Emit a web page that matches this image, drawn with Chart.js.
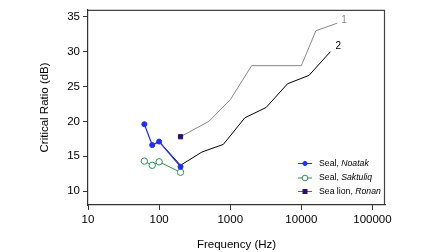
<!DOCTYPE html>
<html>
<head>
<meta charset="utf-8">
<script src="https://cdn.jsdelivr.net/npm/chart.js@4.4.0/dist/chart.umd.min.js"></script>
<style>
  body { margin: 0; background: #fff; }
  #wrap { width: 448px; height: 252px; }
</style>
</head>
<body>
<div id="wrap"><canvas id="myChart"></canvas></div>
<script>
// data
const xTicks = [10, 100, 1000, 10000, 100000];
const yTicks = [10, 15, 20, 25, 30, 35];

const noatakFreq = [62, 80, 100, 200];
const noatakCR = [19.6, 16.6, 17.1, 13.5];

const saktuliqFreq = [62, 80, 100, 200];
const saktuliqCR = [14.3, 13.7, 14.2, 12.7];

const ronanFreq = [200];
const ronanCR = [17.8];

const curve1Freq = [200, 500, 1000, 2000, 10000, 16000, 32000];
const curve1CR = [17.8, 20, 23.1, 28, 28, 33, 34.1];

const curve2Freq = [100, 200, 400, 800, 1600, 3200, 6400, 12800, 25600];
const curve2CR = [17.1, 13.7, 15.6, 16.7, 20.5, 22, 25.4, 26.6, 30];

const seriesNames = ['Seal, Noatak', 'Seal, Saktuliq', 'Sea lion, Ronan'];
const curveLabels = ['1', '2'];

function pts(xs, ys) {
  return xs.map((x, i) => ({ x: x, y: ys[i] }));
}

// box round the plot area, curve numbers and legend
const extras = {
  id: 'extras',
  afterDraw(chart) {
    const ctx = chart.ctx;
    const a = chart.chartArea;
    const xs = chart.scales.x, ys = chart.scales.y;
    ctx.save();
    ctx.strokeStyle = '#444';
    ctx.lineWidth = 1.2;
    ctx.beginPath();
    ctx.moveTo(a.left, a.top + 0.5);
    ctx.lineTo(a.right - 0.5, a.top + 0.5);
    ctx.lineTo(a.right - 0.5, a.bottom);
    ctx.stroke();

    // curve numbers
    ctx.font = '10px "Liberation Sans", Arial, sans-serif';
    ctx.textBaseline = 'middle';
    ctx.textAlign = 'left';
    ctx.fillStyle = '#888';
    let n = curve1Freq.length - 1;
    ctx.fillText(curveLabels[0], xs.getPixelForValue(curve1Freq[n]) + 4, ys.getPixelForValue(curve1CR[n]) - 3);
    ctx.fillStyle = '#000';
    n = curve2Freq.length - 1;
    ctx.fillText(curveLabels[1], xs.getPixelForValue(curve2Freq[n]) + 5, ys.getPixelForValue(curve2CR[n]) - 5);

    // legend
    const rowY = [163.5, 178, 191.5];
    const lx = 298, lw = 14;
    for (let i = 0; i < 3; i++) {
      const ds = chart.data.datasets[i];
      const y = rowY[i];
      ctx.strokeStyle = ds.legendLine || ds.borderColor;
      ctx.lineWidth = 1;
      ctx.beginPath();
      ctx.moveTo(lx, y);
      ctx.lineTo(lx + lw, y);
      ctx.stroke();
      const cx = lx + lw / 2;
      ctx.lineWidth = 1;
      ctx.strokeStyle = ds.pointBorderColor;
      ctx.fillStyle = ds.pointBackgroundColor;
      if (ds.pointStyle === 'rect') {
        ctx.fillRect(cx - 2.5, y - 2.5, 5, 5);
      } else {
        ctx.beginPath();
        ctx.arc(cx, y, ds.pointRadius - 0.4, 0, Math.PI * 2);
        ctx.fill();
        ctx.stroke();
      }
      const parts = seriesNames[i].split(', ');
      let tx = 319;
      ctx.fillStyle = '#000';
      ctx.font = '8.7px "Liberation Sans", Arial, sans-serif';
      ctx.fillText(parts[0] + ', ', tx, y);
      tx += ctx.measureText(parts[0] + ', ').width;
      ctx.font = 'italic 8.7px "Liberation Sans", Arial, sans-serif';
      ctx.fillText(parts[1], tx, y);
    }
    ctx.restore();
  }
};

const font = { family: '"Liberation Sans", Arial, sans-serif', size: 11.5 };

var chart = new Chart(document.getElementById('myChart').getContext('2d'), {
  type: 'line',
  data: {
    datasets: [
      {
        label: seriesNames[0],
        data: pts(noatakFreq, noatakCR),
        borderColor: '#1f2bff',
        borderWidth: 1.2,
        pointRadius: 2.5,
        pointBackgroundColor: '#1f2bff',
        pointBorderColor: '#1f2bff',
        pointBorderWidth: 1
      },
      {
        label: seriesNames[1],
        data: pts(saktuliqFreq, saktuliqCR),
        borderColor: '#2f8f52',
        borderWidth: 1,
        pointRadius: 3.2,
        pointBackgroundColor: '#ffffff',
        pointBorderColor: '#2f8f52',
        pointBorderWidth: 1
      },
      {
        label: seriesNames[2],
        data: pts(ronanFreq, ronanCR),
        borderColor: '#2b1266',
        legendLine: '#6a55b0',
        borderWidth: 1,
        pointStyle: 'rect',
        pointRadius: 3,
        pointBackgroundColor: '#2b1266',
        pointBorderColor: '#2b1266'
      },
      {
        label: 'curve 1',
        data: pts(curve1Freq, curve1CR),
        borderColor: '#888888',
        borderWidth: 1,
        pointRadius: 0
      },
      {
        label: 'curve 2',
        data: pts(curve2Freq, curve2CR),
        borderColor: '#000000',
        borderWidth: 1,
        pointRadius: 0
      }
    ]
  },
  options: {
    responsive: true,
    maintainAspectRatio: false,
    animation: false,
    layout: { padding: { top: 1, right: 63, bottom: 0, left: 0 } },
    plugins: {
      legend: { display: false },
      tooltip: { enabled: false }
    },
    scales: {
      x: {
        type: 'logarithmic',
        min: 10,
        max: 150000,
        afterBuildTicks: s => { s.ticks = xTicks.map(v => ({ value: v })); },
        afterFit: s => { s.height = 47; },
        ticks: { color: '#000', font: font, padding: 3, maxRotation: 0, callback: v => String(v) },
        grid: { display: true, drawOnChartArea: false, drawTicks: true, tickLength: 5, color: '#333' },
        border: { display: true, color: '#333', width: 1.2 },
        title: { display: true, text: 'Frequency (Hz)', color: '#000', font: { family: font.family, size: 11.5 }, padding: { top: 0, bottom: 0 } }
      },
      y: {
        min: 8,
        max: 36,
        afterBuildTicks: s => { s.ticks = yTicks.map(v => ({ value: v })); },
        afterFit: s => { s.width = 88; },
        ticks: { color: '#000', font: font, padding: 3 },
        grid: { display: true, drawOnChartArea: false, drawTicks: true, tickLength: 5, color: '#333' },
        border: { display: true, color: '#333', width: 1.2 },
        title: { display: true, text: 'Critical Ratio (dB)', color: '#000', font: { family: font.family, size: 11.5 }, padding: { top: 38, bottom: 0 } }
      }
    }
  },
  plugins: [extras]
});
</script>
</body>
</html>
